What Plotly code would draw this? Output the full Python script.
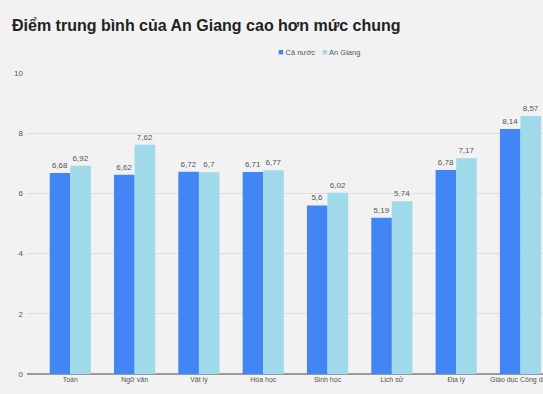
import plotly.graph_objects as go

categories = ["Toán", "Ngữ văn", "Vật lý", "Hóa học", "Sinh học", "Lịch sử", "Địa lý", "Giáo dục Công dân"]
ca_nuoc = [6.68, 6.62, 6.72, 6.71, 5.6, 5.19, 6.78, 8.14]
an_giang = [6.92, 7.62, 6.7, 6.77, 6.02, 5.74, 7.17, 8.57]
series_names = ["Cả nước", "An Giang"]
series_colors = ["#4285f4", "#9fd9ea"]
y_ticks = [0, 2, 4, 6, 8, 10]

def fmt(v):
    return ("%g" % v).replace(".", ",")

fig = go.Figure()
for name, vals, color in zip(series_names, [ca_nuoc, an_giang], series_colors):
    fig.add_trace(go.Bar(
        x=list(range(len(categories))), y=vals, name=name,
        marker=dict(color=color, line=dict(width=0)),
        text=[fmt(v) for v in vals], textposition="outside",
        textfont=dict(size=8, color="#555555", family="Liberation Sans"),
        cliponaxis=False, showlegend=False,
    ))

# x labels: all but the last via ticks; last one (overflowing the right edge) via annotation
ticktext = categories[:-1] + [""]
annotations = [dict(x=len(categories) - 1, xref="x", y=-6/301, yref="paper", yanchor="middle",
                    text=categories[-1], showarrow=False, xanchor="center",
                    font=dict(size=7, color="#555555"))]

# manual compact legend
leg_y = 1 + (73 - 52) / 301
leg_x = [(276 - 27) / 516, (320 - 27) / 516]
for nm, col, lx in zip(series_names, series_colors, leg_x):
    annotations.append(dict(x=lx, xref="paper", y=leg_y, yref="paper", xanchor="left", yanchor="middle",
                            text="<span style='color:%s;font-size:9px'>■</span> %s" % (col, nm), showarrow=False,
                            font=dict(size=7.5, color="#555555")))

fig.update_layout(
    width=543, height=394,
    margin=dict(l=27, r=0, t=73, b=20),
    paper_bgcolor="#f2f2f2", plot_bgcolor="#f2f2f2",
    barmode="group", bargap=0.36, bargroupgap=0,
    font=dict(family="Liberation Sans", color="#555555"),
    title=dict(text="<b>Điểm trung bình của An Giang cao hơn mức chung</b>",
               x=12/543, xanchor="left", y=1-25/394, yanchor="middle",
               font=dict(size=16, color="#222222", family="Liberation Sans")),
    showlegend=False,
    annotations=annotations,
    xaxis=dict(tickmode="array", tickvals=list(range(len(categories))), ticktext=ticktext,
               range=[-0.673, 7.35], showgrid=False, showline=False, zeroline=False,
               tickfont=dict(size=7, color="#555555"), ticks="", ticklabelstandoff=0),
    yaxis=dict(range=[0, 10], tickvals=y_ticks, showgrid=True, gridcolor="#dedede", gridwidth=1,
               zeroline=True, zerolinecolor="#999999", zerolinewidth=1.5,
               tickfont=dict(size=8, color="#555555"), ticks="", ticklabelstandoff=3),
)

fig.write_html("out.html")
